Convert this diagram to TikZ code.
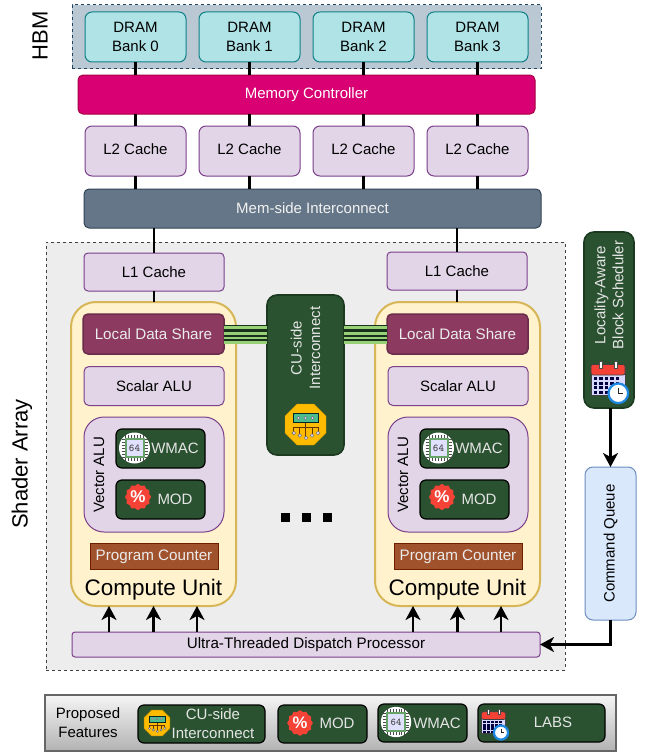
\documentclass[tikz,border=0pt]{standalone}
\usepackage{fontspec}
\setmainfont{Liberation Sans}
\usetikzlibrary{arrows.meta,positioning}
\definecolor{hbmfill}{HTML}{BAC8D3}
\definecolor{hbmdraw}{HTML}{23445D}
\definecolor{dramfill}{HTML}{B0E3E6}
\definecolor{dramdraw}{HTML}{0E8088}
\definecolor{mcfill}{HTML}{D80073}
\definecolor{mcdraw}{HTML}{A50040}
\definecolor{cachefill}{HTML}{E1D5E7}
\definecolor{cachedraw}{HTML}{7B3F8C}
\definecolor{memfill}{HTML}{647687}
\definecolor{memdraw}{HTML}{314354}
\definecolor{cufill}{HTML}{FFF2CC}
\definecolor{cudraw}{HTML}{D6B656}
\definecolor{ldsfill}{HTML}{8C3A60}
\definecolor{ldsdraw}{HTML}{6A2C4A}
\definecolor{pcfill}{HTML}{A0522D}
\definecolor{pcdraw}{HTML}{6D1F00}
\definecolor{newfill}{HTML}{2A5230}
\definecolor{newdraw}{HTML}{1B3A20}
\definecolor{cqfill}{HTML}{DAE8FC}
\definecolor{cqdraw}{HTML}{6C8EBF}
\definecolor{linkfill}{HTML}{97D077}
\definecolor{amberfill}{HTML}{FFBB00}
\definecolor{amberdraw}{HTML}{C79100}
\definecolor{redfill}{HTML}{F44336}
\definecolor{clockblue}{HTML}{1E88E5}
\newcommand{\fifteen}{\fontsize{15}{18.5}\selectfont}
\newcommand{\bigfifteen}{\fontsize{15.2}{19}\selectfont}
\tikzset{block/.style={draw, inner sep=0pt, outer sep=0pt, align=center, line width=1pt, font=\fifteen, rounded corners=#1}}
\tikzset{block size/.style 2 args={minimum width=#1, minimum height=#2}}
\tikzset{dram block/.style={block=7pt, block size={101}{50}, fill=dramfill, draw=dramdraw}}
\tikzset{cache block/.style={block=7pt, block size={101}{50}, fill=cachefill, draw=cachedraw, text depth=4pt}}
\tikzset{alu block/.style={block=5pt, block size={140}{39}, fill=cachefill, draw=cachedraw}}
\tikzset{bar block/.style={block=5pt, text=white}}
\tikzset{lds block/.style={block=5pt, block size={141}{40}, fill=ldsfill, draw=ldsdraw, line width=1.5pt, text=white!92!black, font=\bigfifteen}}
\tikzset{pc block/.style={block=0pt, block size={128}{26}, fill=pcfill, draw=pcdraw, text=white!92!black, font=\bigfifteen, text height=13pt}}
\tikzset{cu block/.style={block=25pt, block size={165}{304}, fill=cufill, draw=cudraw, line width=2pt}}
\tikzset{feature block/.style={block=6pt, fill=newfill, draw=black, line width=1.2pt}}
\tikzset{feature side/.style={block=10pt, fill=newfill, draw=newdraw, line width=1.6pt}}
\tikzset{feature text/.style={font=\fifteen, text=white!90!black, align=center, inner sep=0pt}}
\tikzset{side label/.style={font=\fontsize{22}{26}\selectfont, rotate=90, inner sep=0pt}}
\tikzset{cu label/.style={font=\fontsize{22.5}{26}\selectfont, inner sep=0pt}}
\tikzset{plain label/.style={font=\fifteen, align=center, inner sep=0pt}}
\tikzset{bus/.style={draw=black, line width=2.4pt}}
\tikzset{flow/.style={draw=black, line width=2.4pt, -{Stealth[length=14pt,width=15pt,inset=4pt]}}}
\tikzset{link dark/.style={draw=newdraw!85!black, line width=17pt}}
\tikzset{link light/.style={draw=linkfill, line width=#1}}
\tikzset{dot block/.style={fill=black, inner sep=0pt, outer sep=0pt, minimum size=9pt}}
\tikzset{busicon/.pic={
    \filldraw [fill=amberfill, draw=amberdraw, line width=0.4pt]
      (-20.5,-8.5) -- (-8.5,-20.5) -- (8.5,-20.5) -- (20.5,-8.5) -- (20.5,8.5) -- (8.5,20.5) -- (-8.5,20.5) -- (-20.5,8.5) -- cycle;
    \draw [orange!40!black, line width=0.9pt]
      (0,-2) -- (0,13) (-11.7,8) -- (-11.7,3.3) -- (12.5,3.3) -- (12.5,8)
      (-5.7,3.3) -- (-5.7,10.5) (6.5,3.3) -- (6.5,10.5);
    \filldraw [fill=teal!75!green!70!white, draw=black!70!teal, line width=0.7pt] (-12.5,-11) rectangle (12.5,-1.8);
    \foreach \px in {-7,0,7} {\filldraw [fill=white!85!blue, draw=black!60, line width=0.3pt] (\px,-6.5) circle (1.6);}
    \foreach \px/\py in {-11.7/8.5, -5.7/11, 0.5/13.3, 6.5/11, 12.5/8.5} {\filldraw [fill=white!85!blue, draw=black!60, line width=0.4pt] (\px,\py) circle (1.8);}
}}
\tikzset{modicon/.pic={
    \fill [redfill] (0:13.1)
      \foreach \ang in {7.5,15,...,352.5} {-- (\ang:{12.3+0.8*cos(12*\ang)})} -- cycle;
    \node [transform shape, text=white, inner sep=0pt, font=\fontsize{17}{17}\selectfont\bfseries] (-pct) at (0,0) {\%};
}}
\tikzset{chipicon/.pic={
    \fill [white] (0,0) circle (15.5);
    \foreach \pin in {-9,-6,...,9} {
      \draw [black!70, line width=0.8pt] (\pin,-13) -- (\pin,-10) (\pin,10) -- (\pin,13) (-13,\pin) -- (-10,\pin) (10,\pin) -- (13,\pin);
    }
    \filldraw [fill=white!88!blue, draw=green!40!black!60, line width=2pt] (-9,-9) rectangle (9,9);
    \node [transform shape, text=black!70, inner sep=0pt, font=\fontsize{10.5}{10.5}\selectfont\ttfamily\bfseries] (-bits) at (0,0) {64};
}}
\tikzset{calicon/.pic={
    \filldraw [fill=white!85!blue, draw=black!75, line width=0.7pt] (-19,-12) rectangle (15,15);
    \filldraw [fill=redfill, draw=black!75, line width=0.7pt, rounded corners=2pt] (-19,-5) -- (-19,-15.5) -- (15,-15.5) -- (15,-5) -- cycle;
    \foreach \px in {-9,6} {\filldraw [fill=white, draw=black!70, line width=0.5pt] (\px-1.4,-19) rectangle (\px+1.4,-11.5);}
    \foreach \py in {-3,1.5,6,10.5} {
      \foreach \px in {-16.5,-11,-5.5,0,5.5} {\fill [black!75!blue] (\px,\py) rectangle ++(3.7,3.4);}
    }
    \filldraw [fill=white, draw=clockblue, line width=2.2pt] (8.3,13.3) circle (9.8);
    \draw [black!85, line width=0.8pt] (8.3,8) -- (8.3,13.3) -- (12.5,13.3);
}}

\begin{document}
\begin{tikzpicture}
      [x=1pt, y=-1pt]
      \useasboundingbox (0,0) rectangle (646,752);

      % memory side
      \node [block=0pt, block size={469}{64}, fill=hbmfill, draw=hbmdraw, dashed] (hbm) at (306.5, 37) {};
      \node [side label]                          (hbmlabel) at ( 40,  36) {HBM};
      \node [dram block]                          (dram0)    at (135.5,  37) {DRAM\\Bank 0};
      \node [dram block]                          (dram1)    at (249.5,  37) {DRAM\\Bank 1};
      \node [dram block]                          (dram2)    at (363.5,  37) {DRAM\\Bank 2};
      \node [dram block]                          (dram3)    at (477.5,  37) {DRAM\\Bank 3};
      \node [bar block, block size={457}{39}, fill=mcfill, draw=mcdraw]   (mc)  at (306.5,  94.5) {Memory Controller};
      \node [cache block]                         (l2n0)     at (135.5, 151) {L2 Cache};
      \node [cache block]                         (l2n1)     at (249.5, 151) {L2 Cache};
      \node [cache block]                         (l2n2)     at (363.5, 151) {L2 Cache};
      \node [cache block]                         (l2n3)     at (477.5, 151) {L2 Cache};
      \node [bar block, block size={457}{39}, fill=memfill, draw=memdraw, text=white!95!black] (mem) at (312.5, 208.5) {Mem-side Interconnect};

      \draw [bus] (dram0.south) -- (dram0.south |- mc.north);
      \draw [bus] (dram1.south) -- (dram1.south |- mc.north);
      \draw [bus] (dram2.south) -- (dram2.south |- mc.north);
      \draw [bus] (dram3.south) -- (dram3.south |- mc.north);
      \draw [bus] (l2n0.north)  -- (l2n0.north |- mc.south);
      \draw [bus] (l2n1.north)  -- (l2n1.north |- mc.south);
      \draw [bus] (l2n2.north)  -- (l2n2.north |- mc.south);
      \draw [bus] (l2n3.north)  -- (l2n3.north |- mc.south);
      \draw [bus] (l2n0.south)  -- (l2n0.south |- mem.north);
      \draw [bus] (l2n1.south)  -- (l2n1.south |- mem.north);
      \draw [bus] (l2n2.south)  -- (l2n2.south |- mem.north);
      \draw [bus] (l2n3.south)  -- (l2n3.south |- mem.north);

      % shader array
      \node [block=0pt, block size={519}{428}, fill=black!7, draw=black!75, dashed] (array) at (305.5, 456) {};
      \node [side label]                          (arraylabel) at (22, 464) {Shader Array};
      \node [block=3pt, block size={468}{25}, fill=cachefill, draw=cachedraw, font=\fontsize{15.2}{17}\selectfont] (disp) at (306, 644.5) {Ultra-Threaded Dispatch Processor};

      \begin{scope}
        \node [block=4pt, block size={140}{38}, fill=cachefill, draw=cachedraw] (l1) at (154, 272) {L1 Cache};
        \node [cu block]    (cu)     at (153.5, 454) {};
        \node [lds block]   (lds)    at (153.5, 334) {Local Data Share};
        \node [alu block]   (scalar) at (154,   386) {Scalar ALU};
        \node [block=20pt, block size={140}{115}, fill=cachefill, draw=cachedraw] (vec) at (154, 474.5) {};
        \node [plain label, rotate=90] (veclabel) at (99, 475) {Vector ALU};
        \node [feature block, block size={89}{39}] (wmac) at (160.5, 448.5) {};
        \node [feature block, block size={89}{39}] (mod)  at (160.5, 499.5) {};
        \node [feature text] (wmaclabel) at (175, 448) {WMAC};
        \node [feature text] (modlabel)  at (175, 499) {MOD};
        \pic (wmacicon) at (134.5, 448) {chipicon};
        \pic (modicon)  at (138,   497) {modicon};
        \node [pc block]    (pc)     at (154, 556) {Program Counter};
        \node [cu label]    (culabel) at (153.5, 590) {Compute Unit};
      \end{scope}

      \begin{scope}[xshift=304pt]
        \node [block=4pt, block size={140}{38}, fill=cachefill, draw=cachedraw] (l1') at (153, 271) {L1 Cache};
        \node [cu block]    (cu')     at (153.5, 454) {};
        \node [lds block]   (lds')    at (153.5, 334) {Local Data Share};
        \node [alu block]   (scalar') at (154,   386) {Scalar ALU};
        \node [block=20pt, block size={140}{115}, fill=cachefill, draw=cachedraw] (vec') at (154, 474.5) {};
        \node [plain label, rotate=90] (veclabel') at (99, 475) {Vector ALU};
        \node [feature block, block size={89}{39}] (wmac') at (160.5, 448.5) {};
        \node [feature block, block size={89}{39}] (mod')  at (160.5, 499.5) {};
        \node [feature text] (wmaclabel') at (175, 448) {WMAC};
        \node [feature text] (modlabel')  at (175, 499) {MOD};
        \pic (wmacicon') at (134.5, 448) {chipicon};
        \pic (modicon')  at (138,   497) {modicon};
        \node [pc block]    (pc')     at (154, 556) {Program Counter};
        \node [cu label]    (culabel') at (153.5, 590) {Compute Unit};
      \end{scope}

      \node [feature side, block size={77}{160}] (cui) at (305.5, 375) {};
      \node [feature text, rotate=90]            (cuilabel) at (305.5, 348) {CU-side\\Interconnect};
      \pic (cuiicon) at (305.5, 424.5) {busicon};

      \node [dot block] (dot0) at (285, 517.5) {};
      \node [dot block] (dot1) at (306, 517.5) {};
      \node [dot block] (dot2) at (327, 517.5) {};

      \draw [bus] (l1.north)   -- (l1.north |- mem.south);
      \draw [bus] (l1'.north)  -- (l1'.north |- mem.south);
      \draw [bus] (l1.south)   -- (l1.south |- cu.north);
      \draw [bus] (l1'.south)  -- (l1'.south |- cu'.north);

      \draw [link dark] (lds.east |- 0,333)  -- (cui.west |- 0,333);
      \draw [link dark] (cui.east |- 0,333)  -- (lds'.west |- 0,333);
      \foreach \rowy/\rowh in {327/3pt, 333.3/3pt, 338.3/2pt, 342.7/3pt} {
        \draw [link light=\rowh] (lds.east |- 0,\rowy) -- (cui.west |- 0,\rowy);
        \draw [link light=\rowh] (cui.east |- 0,\rowy) -- (lds'.west |- 0,\rowy);
      }

      \draw [flow] ([xshift=-44.5pt]cu.south |- disp.north)  -- ([xshift=-44.5pt]cu.south);
      \draw [flow] (cu.south |- disp.north)                  -- (cu.south);
      \draw [flow] ([xshift=43.5pt]cu.south |- disp.north)   -- ([xshift=43.5pt]cu.south);
      \draw [flow] ([xshift=-44.5pt]cu'.south |- disp.north) -- ([xshift=-44.5pt]cu'.south);
      \draw [flow] (cu'.south |- disp.north)                 -- (cu'.south);
      \draw [flow] ([xshift=43.5pt]cu'.south |- disp.north)  -- ([xshift=43.5pt]cu'.south);

      % scheduler and queue
      \node [feature side, block size={50}{176}] (labs) at (609, 320) {};
      \node [feature text, rotate=90, font=\fontsize{15}{18}\selectfont] (labslabel) at (609, 295) {Locality-Aware\\Block Scheduler};
      \pic (labsicon) at (610, 380) {calicon};
      \node [block=8pt, rotate=90, block size={153}{51}, fill=cqfill, draw=cqdraw] (cq) at (610.5, 543.5) {Command Queue};

      \draw [flow] (labs.south -| cq.east) -- (cq.east);
      \draw [flow] (cq.west) |- (disp.east);

      % legend
      \node [block=0pt, block size={571}{56}, top color=white!96!black, bottom color=black!30, draw=black!60, line width=2pt] (legend) at (330.5, 723) {};
      \node [plain label] (legendlabel) at (88, 722.5) {Proposed\\Features};
      \node [feature block, block size={127}{38}] (lcui)  at (201.5, 724) {};
      \node [feature block, block size={89}{38}]  (lmod)  at (322.5, 724) {};
      \node [feature block, block size={89}{38}]  (lwmac) at (422.5, 723) {};
      \node [feature block, block size={127}{38}] (llabs) at (541.5, 723) {};
      \node [feature text] (lcuilabel)  at (213, 723.5) {CU-side\\Interconnect};
      \node [feature text] (lmodlabel)  at (337, 723.5) {MOD};
      \node [feature text] (lwmaclabel) at (437, 723) {WMAC};
      \node [feature text] (llabslabel) at (553, 722) {LABS};
      \pic [scale=0.63]  (lcuiicon)  at (157, 723) {busicon};
      \pic [scale=0.98]  (lmodicon)  at (300, 723) {modicon};
      \pic [scale=0.98]  (lwmacicon) at (396, 722) {chipicon};
      \pic [scale=0.72]  (llabsicon) at (495, 723) {calicon};
    \end{tikzpicture}
\end{document}
